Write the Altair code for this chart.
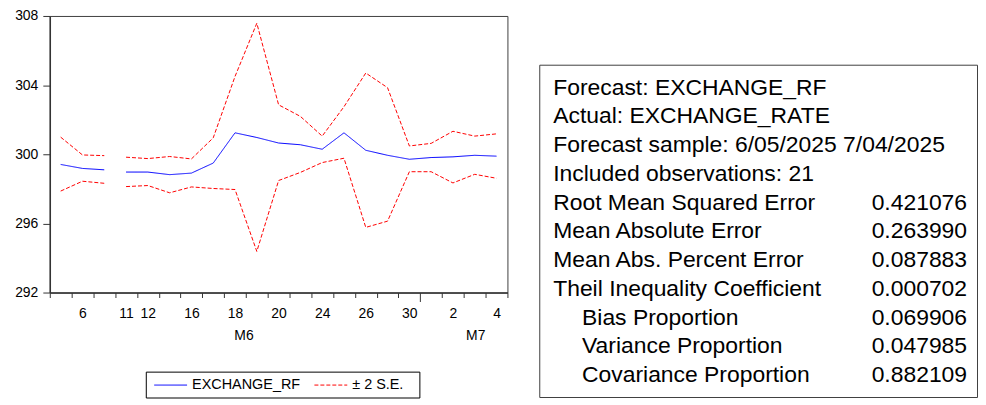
import altair as alt
import pandas as pd

# ---------------- data ----------------
slots = list(range(21))
tick_labels = ["", "6", "", "11", "12", "", "16", "", "18", "", "20", "", "24",
               "", "26", "", "30", "", "2", "", "4"]
segment = ["a"] * 3 + ["b"] * 18
forecast = [299.41, 299.18, 299.10, 298.97, 298.97, 298.82, 298.91, 299.49, 301.24,
            300.97, 300.65, 300.55, 300.29, 301.24, 300.23, 299.94, 299.71, 299.81,
            299.85, 299.94, 299.89]
upper = [300.99, 299.96, 299.92, 299.83, 299.75, 299.87, 299.73, 300.95, 304.50,
         307.58, 302.86, 302.19, 301.05, 302.75, 304.70, 303.85, 300.48, 300.63,
         301.33, 301.05, 301.18]
lower = [297.87, 298.44, 298.32, 298.13, 298.19, 297.77, 298.11, 298.02, 297.96,
         294.38, 298.48, 298.95, 299.52, 299.77, 295.77, 296.13, 298.99, 298.99,
         298.34, 298.84, 298.61]
month_labels = ["M6", "M7"]
month_slots = [8, 19]

series_names = ["EXCHANGE_RF", "\u00b1 2 S.E."]

header_lines = ["Forecast: EXCHANGE_RF", "Actual: EXCHANGE_RATE",
                "Forecast sample: 6/05/2025 7/04/2025", "Included observations: 21"]
stat_names = ["Root Mean Squared Error", "Mean Absolute Error",
              "Mean Abs. Percent Error", "Theil Inequality Coefficient",
              "Bias Proportion", "Variance Proportion", "Covariance Proportion"]
stat_values = ["0.421076", "0.263990", "0.087883", "0.000702",
               "0.069906", "0.047985", "0.882109"]
stat_indent = [0, 0, 0, 0, 1, 1, 1]

# ---------------- tables ----------------
rows = []
for i in slots:
    s = segment[i]
    rows.append({"slot": i, "value": forecast[i], "series": series_names[0], "line": "fc_" + s})
    rows.append({"slot": i, "value": upper[i], "series": series_names[1], "line": "up_" + s})
    rows.append({"slot": i, "value": lower[i], "series": series_names[1], "line": "lo_" + s})
df = pd.DataFrame(rows)
df_month = pd.DataFrame({"slot": month_slots, "label": month_labels})
df_legend = pd.DataFrame({"series": series_names})

trows = []
for k, h in enumerate(header_lines):
    trows.append({"row": k, "label": h, "value": "", "indent": 0})
for k, (n, v, ind) in enumerate(zip(stat_names, stat_values, stat_indent)):
    trows.append({"row": len(header_lines) + k, "label": n, "value": v, "indent": ind})
df_table = pd.DataFrame(trows)

FONT = "Arial, Liberation Sans, sans-serif"
label_expr = "[" + ",".join("'%s'" % t for t in tick_labels) + "][datum.value]"

color_scale = alt.Scale(domain=series_names, range=["#0000FF", "#FF0000"])
dash_scale = alt.Scale(domain=series_names, range=[[1, 0], [4, 2]])

x_enc = alt.X(
    "slot:O", title=None,
    scale=alt.Scale(type="band", paddingInner=0, paddingOuter=0),
    axis=alt.Axis(
        tickBand="extent", labelExpr=label_expr, labelAngle=0, labelOverlap=False,
        tickSize={"condition": {"test": "datum.value == 16", "value": 9}, "value": 5},
        labelPadding={"condition": {"test": "datum.value == 16", "value": 5}, "value": 9},
        labelFontSize=14, labelFont=FONT, labelColor="black",
        domainColor="#333333", domainWidth=1.5, tickColor="#333333", grid=False,
    ),
)

lines = alt.Chart(df).mark_line(strokeWidth=1).encode(
    x=x_enc,
    y=alt.Y("value:Q", title=None,
            scale=alt.Scale(domain=[292, 308], nice=False, zero=False),
            axis=alt.Axis(values=[292, 296, 300, 304, 308], tickSize=7, labelPadding=5,
                          labelFontSize=14, labelFont=FONT, labelColor="black",
                          domainColor="#333333", domainWidth=1.5,
                          tickColor="#333333", grid=False)),
    color=alt.Color("series:N", scale=color_scale, legend=None),
    strokeDash=alt.StrokeDash("series:N", scale=dash_scale, legend=None),
    detail="line:N",
)


def month_text(name, dx):
    d = df_month[df_month["label"] == name]
    return alt.Chart(d).mark_text(
        fontSize=14, font=FONT, color="black", baseline="middle", dx=dx
    ).encode(x=alt.X("slot:O"), y=alt.value(322), text="label:N")


# legend box (bottom, below the plot)
leg_box = alt.Chart(df_legend.head(1)).mark_rect(
    fill="white", stroke="black", strokeWidth=1
).encode(x=alt.value(97), x2=alt.value(372), y=alt.value(358), y2=alt.value(384))


def legend_entry(name, x0):
    d = df_legend[df_legend["series"] == name]
    sym = alt.Chart(d).mark_rule(strokeWidth=1).encode(
        x=alt.value(x0), x2=alt.value(x0 + 33), y=alt.value(371),
        color=alt.Color("series:N", scale=color_scale, legend=None),
        strokeDash=alt.StrokeDash("series:N", scale=dash_scale, legend=None),
    )
    txt = alt.Chart(d).mark_text(
        fontSize=14.5, font=FONT, color="black", align="left", baseline="middle"
    ).encode(x=alt.value(x0 + 38), y=alt.value(371), text="series:N")
    return sym + txt


left = alt.layer(
    lines,
    month_text(month_labels[0], 9),
    month_text(month_labels[1], 1),
    leg_box,
    legend_entry(series_names[0], 105),
    legend_entry(series_names[1], 266),
).properties(width=460, height=278)

base_t = alt.Chart(df_table).encode(
    y=alt.Y("row:Q", scale=alt.Scale(domain=[-0.8, 10.76], reverse=True), axis=None),
)
t_main = base_t.transform_filter("datum.indent == 0").mark_text(
    fontSize=23, font=FONT, color="black", align="left", baseline="middle"
).encode(x=alt.value(14), text="label:N")
t_ind = base_t.transform_filter("datum.indent == 1").mark_text(
    fontSize=23, font=FONT, color="black", align="left", baseline="middle"
).encode(x=alt.value(43), text="label:N")
t_val = base_t.mark_text(
    fontSize=23, font=FONT, color="black", align="right", baseline="middle"
).encode(x=alt.value(430), text="value:N")

table = alt.layer(t_main, t_ind, t_val).properties(width=440, height=334)

spacer = alt.Chart(pd.DataFrame({"row": [0]})).mark_text(text="", opacity=0).encode(
    x=alt.value(0), y=alt.value(0)
).properties(width=440, height=49, view=alt.ViewBackground(stroke="transparent"))

right = alt.vconcat(spacer, table, spacing=0, bounds="flush")

chart = alt.hconcat(left, right, spacing=32, bounds="flush").properties(
    autosize=alt.AutoSizeParams(type="none"),
    padding={"left": 42, "top": 7, "right": 933, "bottom": 385},
    background="white",
).configure_view(stroke="#404040", strokeWidth=1)

chart.save("out.html", embed_options={"renderer": "svg", "actions": False})
